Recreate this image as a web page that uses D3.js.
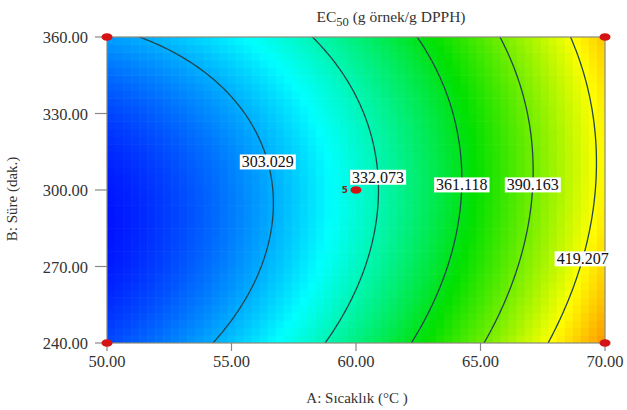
<!doctype html>
<html lang="tr">
<head>
<meta charset="UTF-8">
<title>EC50 kontur</title>
<script src="https://cdn.jsdelivr.net/npm/d3@7"></script>
<style>
  body { margin: 0; background: #fff; }
  svg text { font-family: "Liberation Serif", "DejaVu Serif", serif; fill: #333; }
</style>
</head>
<body>
<div id="chart"></div>
<script>
// axes
var xTicks = [50, 55, 60, 65, 70];
var yTicks = [240, 270, 300, 330, 360];

// fitted quadratic model (coded a=(A-60)/10, b=(B-300)/60)
var modelTerms = ["b0", "A", "B", "AB", "A2", "B2"];
var modelCoefs = [325.16, 74.4, 0.65, -7.1, 24.4, 17.3];

// contour levels and where their labels sit (B value along each line)
var levels = [303.029, 332.073, 361.118, 390.163, 419.207];
var labelB = [311, 305, 302, 302, 273];

// design points
var designA = [50, 50, 70, 70, 60];
var designB = [240, 360, 240, 360, 300];
var designN = [1, 1, 1, 1, 5];

var W = 627, H = 410;
var x = d3.scaleLinear().domain([50, 70]).range([107, 605]);
var y = d3.scaleLinear().domain([240, 360]).range([343, 37]);

var c = {};
modelTerms.forEach(function(t, i) { c[t] = modelCoefs[i]; });
function f(A, B) {
  var a = (A - 60) / 10, b = (B - 300) / 60;
  return c.b0 + c.A * a + c.B * b + c.AB * a * b + c.A2 * a * a + c.B2 * b * b;
}

var color = d3.scaleLinear()
  .domain([274, 318, 366, 420, 478])
  .range(["#0010ff", "#00ffff", "#00e000", "#ffff00", "#ff2000"]);

var svg = d3.select("#chart").append("svg").attr("width", W).attr("height", H);

svg.append("clipPath").attr("id", "plot")
  .append("rect").attr("x", 107).attr("y", 37).attr("width", 498).attr("height", 306);

var g = svg.append("g").attr("clip-path", "url(#plot)");

// colored cells
var nCols = 62, nRows = 40, cells = [];
for (var i = 0; i < nCols; i++) {
  for (var j = 0; j < nRows; j++) {
    var A0 = 50 + i * 20 / nCols, B0 = 240 + j * 120 / nRows;
    cells.push({A0: A0, A1: A0 + 20 / nCols, B0: B0, B1: B0 + 120 / nRows,
                v: f(A0 + 10 / nCols, B0 + 60 / nRows)});
  }
}
g.selectAll("rect.cell").data(cells).enter().append("rect")
  .attr("class", "cell")
  .attr("x", function(d) { return x(d.A0); })
  .attr("y", function(d) { return y(d.B1); })
  .attr("width", function(d) { return x(d.A1) - x(d.A0) + 0.6; })
  .attr("height", function(d) { return y(d.B0) - y(d.B1) + 0.6; })
  .attr("fill", function(d) { return color(d.v); });

// contour lines
var nx = 201, ny = 121, grid = new Array(nx * ny);
var dA = 20 / (nx - 1), dB = 120 / (ny - 1);
for (var jj = 0; jj < ny; jj++)
  for (var ii = 0; ii < nx; ii++)
    grid[jj * nx + ii] = f(50 + ii * dA, 240 + jj * dB);

var contours = d3.contours().size([nx, ny]).thresholds(levels)(grid);
var proj = d3.geoTransform({
  point: function(px, py) {
    this.stream.point(x(50 + (px - 0.5) * dA), y(240 + (py - 0.5) * dB));
  }
});
var path = d3.geoPath(proj);
g.selectAll("path.iso").data(contours).enter().append("path")
  .attr("class", "iso")
  .attr("d", path)
  .attr("fill", "none")
  .attr("stroke", "#24464a")
  .attr("stroke-width", 1.3);

// frame
svg.append("rect").attr("x", 107).attr("y", 37).attr("width", 498).attr("height", 306)
  .attr("fill", "none").attr("stroke", "#8a8a78").attr("stroke-width", 1.2);

// axes ticks and labels
svg.selectAll("line.xt").data(xTicks).enter().append("line")
  .attr("x1", function(d) { return x(d); }).attr("x2", function(d) { return x(d); })
  .attr("y1", 343).attr("y2", 351).attr("stroke", "#888").attr("stroke-width", 1.2);
svg.selectAll("text.xt").data(xTicks).enter().append("text")
  .attr("x", function(d) { return x(d); }).attr("y", 367)
  .attr("text-anchor", "middle").style("font-size", "16.5px")
  .text(function(d) { return d.toFixed(2); });

svg.selectAll("line.yt").data(yTicks).enter().append("line")
  .attr("x1", 95).attr("x2", 107)
  .attr("y1", function(d) { return y(d); }).attr("y2", function(d) { return y(d); })
  .attr("stroke", "#888").attr("stroke-width", 1.2);
svg.selectAll("text.yt").data(yTicks).enter().append("text")
  .attr("x", 88).attr("y", function(d) { return y(d) + 6; })
  .attr("text-anchor", "end").style("font-size", "16.5px")
  .text(function(d) { return d.toFixed(2); });

svg.append("text").attr("x", 357).attr("y", 403).attr("text-anchor", "middle")
  .style("font-size", "15px").text("A: Sıcaklık (°C )");
svg.append("text").attr("transform", "translate(17,199) rotate(-90)")
  .attr("text-anchor", "middle").style("font-size", "15px").text("B: Süre (dak.)");

var title = svg.append("text").attr("x", 391).attr("y", 22).attr("text-anchor", "middle")
  .style("font-size", "15.5px");
title.append("tspan").text("EC");
title.append("tspan").attr("dy", 4).style("font-size", "12.5px").text("50");
title.append("tspan").attr("dy", -4).text(" (g örnek/g DPPH)");

// contour labels: find A on each level at the given B
function solveA(level, B) {
  var lo = 50, hi = 70;
  for (var k = 0; k < 40; k++) {
    var mid = (lo + hi) / 2;
    if (f(mid, B) < level) lo = mid; else hi = mid;
  }
  return (lo + hi) / 2;
}
var labs = svg.selectAll("g.lab").data(levels).enter().append("g")
  .attr("class", "lab")
  .attr("transform", function(d, k) {
    return "translate(" + x(solveA(d, labelB[k])) + "," + y(labelB[k]) + ")";
  });
labs.append("text")
  .attr("text-anchor", "middle").attr("y", 5.5)
  .style("font-size", "16px").style("fill", "#111")
  .text(function(d) { return d.toFixed(3); });
labs.each(function() {
  var gg = d3.select(this), bb = gg.select("text").node().getBBox();
  gg.insert("rect", "text")
    .attr("x", bb.x - 2).attr("y", bb.y + 1).attr("width", bb.width + 4).attr("height", bb.height - 2)
    .attr("fill", "#fff");
});

// design points
var pts = designA.map(function(a, k) { return {A: a, B: designB[k], n: designN[k]}; });
svg.selectAll("ellipse.pt").data(pts).enter().append("ellipse")
  .attr("cx", function(d) { return x(d.A); }).attr("cy", function(d) { return y(d.B); })
  .attr("rx", 5.5).attr("ry", 3.8).attr("fill", "#d41414");
svg.selectAll("text.pn").data(pts.filter(function(d) { return d.n > 1; })).enter().append("text")
  .attr("x", function(d) { return x(d.A) - 8; }).attr("y", function(d) { return y(d.B) + 3; })
  .attr("text-anchor", "end").style("font-size", "9px").style("font-weight", "bold")
  .style("fill", "#8a2020").style("font-family", "DejaVu Sans, sans-serif")
  .text(function(d) { return d.n; });
</script>
</body>
</html>
